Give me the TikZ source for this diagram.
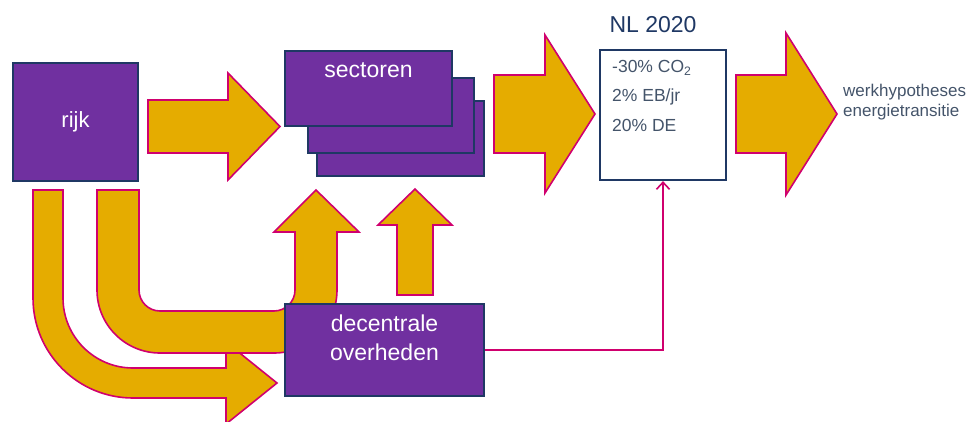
\documentclass[tikz,border=0pt]{standalone}
\usepackage{fontspec}
\setmainfont{Liberation Sans}
\usetikzlibrary{arrows.meta}
\definecolor{boxpurple}{HTML}{7030A0}
\definecolor{boxnavy}{HTML}{1F3864}
\definecolor{arrowgold}{HTML}{E5AC00}
\definecolor{arrowred}{HTML}{D0006E}
\definecolor{notegray}{HTML}{44546A}
\begin{document}
\begin{tikzpicture}[x=1pt,y=-1pt,
    blockarrow/.style={fill=arrowgold, draw=arrowred, line width=1.6pt},
    purplebox/.style={fill=boxpurple, draw=boxnavy, line width=2.2pt, inner sep=0pt},
    whitetext/.style={text=white, font=\fontsize{23}{29}\selectfont, align=center},
    notetext/.style={text=notegray, font=\fontsize{17.5}{20}\selectfont, inner sep=0pt}]
    \clip (0,0) rectangle (968,421);

    % Drawing outer U arrow rijk -> decentrale overheden
    \draw [blockarrow] (33,190) -- (33,298) arc[start angle=180, end angle=270, radius=100pt]
        -- (226,398) -- (226,424) -- (277,383) -- (226,342) -- (226,368) -- (133,368)
        arc[start angle=270, end angle=180, radius=70pt] -- (63,190) -- cycle;

    % Drawing inner U arrow rijk -> sectoren
    \draw [blockarrow] (97,190) -- (97,290) arc[start angle=180, end angle=270, radius=63pt]
        -- (274,353) arc[start angle=270, end angle=360, radius=63pt]
        -- (337,232) -- (359,232) -- (316,190) -- (274,232) -- (295,232) -- (295,290)
        arc[start angle=0, end angle=-90, radius=21pt] -- (160,311)
        arc[start angle=270, end angle=180, radius=21pt] -- (139,190) -- cycle;

    % Drawing up arrow decentrale overheden -> sectoren
    \draw [blockarrow] (397,295) -- (397,225) -- (378,225) -- (415,189) -- (452,225)
        -- (433,225) -- (433,295) -- cycle;

    % Drawing arrow rijk -> sectoren
    \draw [blockarrow] (148,100) -- (228,100) -- (228,73) -- (280,126.5) -- (228,180)
        -- (228,153) -- (148,153) -- cycle;

    % Drawing arrow sectoren -> NL 2020
    \draw [blockarrow] (494,75) -- (545,75) -- (545,35) -- (595,114) -- (545,193)
        -- (545,153) -- (494,153) -- cycle;

    % Drawing arrow NL 2020 -> werkhypotheses
    \draw [blockarrow] (736,75) -- (786,75) -- (786,33) -- (837,114) -- (786,195)
        -- (786,153) -- (736,153) -- cycle;

    % Box rijk
    \node [purplebox, whitetext, font=\fontsize{22}{26}\selectfont, minimum width=125pt, minimum height=118pt] (rijk) at (75.5,122) {rijk};

    % Stack of boxes sectoren
    \node [purplebox, minimum width=167pt, minimum height=75pt] (sec3) at (400.5,138.5) {};
    \node [purplebox, minimum width=166pt, minimum height=75pt] (sec2) at (391,115.5) {};
    \node [purplebox, minimum width=167pt, minimum height=75pt] (sec1) at (368.5,88.5) {};
    \node [whitetext] (sectext) at (368.5,70) {sectoren};

    % Box decentrale overheden
    \node [purplebox, minimum width=199pt, minimum height=92pt] (deco) at (384.5,350) {};
    \node [whitetext] (decotext) at (384.5,337.5) {decentrale\\overheden};

    % Box NL 2020
    \node [fill=white, draw=boxnavy, line width=2.2pt, minimum width=126pt, minimum height=130pt] (nl) at (663,115) {};
    \node [text=boxnavy, font=\fontsize{23}{26}\selectfont] (nltitle) at (653,25) {NL 2020};
    \node [notetext, anchor=west] (co) at (612,68) {-30\% CO\textsubscript{2}};
    \node [notetext, anchor=west] (eb) at (612,97) {2\% EB/jr};
    \node [notetext, anchor=west] (de) at (612,125) {20\% DE};

    % Marking werkhypotheses
    \node [notetext, font=\fontsize{17}{20}\selectfont, anchor=west, align=left] (werk) at (843,102) {werkhypotheses\\energietransitie};

    % Drawing line decentrale overheden -> NL 2020
    \draw [arrowred, line width=1.6pt, -{Straight Barb[length=7pt,width=13pt]}] (deco.east) -| (nl.south);
\end{tikzpicture}
\end{document}
